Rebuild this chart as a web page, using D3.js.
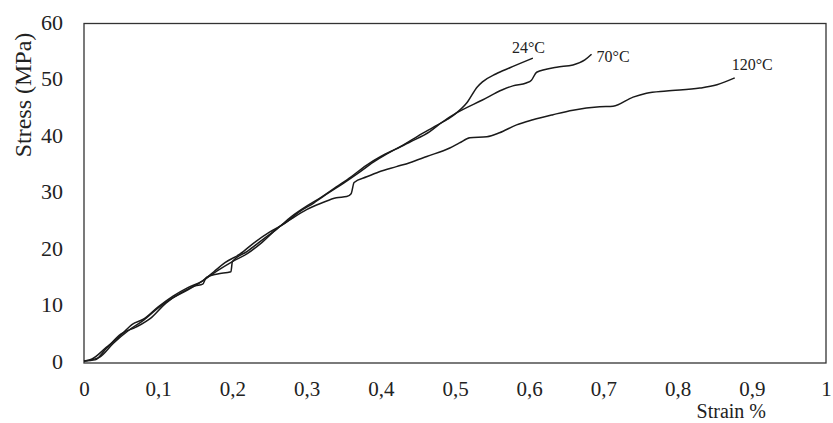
<!DOCTYPE html>
<html>
<head>
<meta charset="utf-8">
<script src="https://cdn.jsdelivr.net/npm/d3@7/dist/d3.min.js"></script>
<style>
  html, body { margin: 0; padding: 0; background: #fff; }
  svg { display: block; }
  text { font-family: "Liberation Serif", "Times New Roman", serif; fill: #222; }
</style>
</head>
<body>
<svg id="chart" width="833" height="423"></svg>
<script>
// ---- data ----
const xTickValues = [0, 0.1, 0.2, 0.3, 0.4, 0.5, 0.6, 0.7, 0.8, 0.9, 1];
const xTickLabels = ["0", "0,1", "0,2", "0,3", "0,4", "0,5", "0,6", "0,7", "0,8", "0,9", "1"];
const yTickValues = [0, 10, 20, 30, 40, 50, 60];
const yTickLabels = ["0", "10", "20", "30", "40", "50", "60"];
const seriesNames = ["24°C", "70°C", "120°C"];

const strain24 = [0, 0.01, 0.03, 0.05, 0.065, 0.08, 0.1, 0.12, 0.14, 0.16, 0.175, 0.19, 0.21, 0.23, 0.25, 0.27, 0.29, 0.31, 0.33, 0.35, 0.37, 0.39, 0.41, 0.43, 0.45, 0.47, 0.49, 0.5, 0.516, 0.53, 0.537, 0.555, 0.574, 0.605];
const stress24 = [0, 0.3, 2.4, 4.6, 6.5, 7.4, 9.6, 11.5, 13.0, 14.2, 15.8, 17.4, 18.9, 21.0, 22.8, 24.3, 26.4, 28.0, 29.8, 31.5, 33.3, 35.2, 36.8, 38.2, 39.8, 41.3, 42.8, 43.7, 45.7, 48.5, 49.4, 50.8, 51.9, 53.6];

const strain70 = [0, 0.015, 0.03, 0.05, 0.07, 0.09, 0.11, 0.13, 0.15, 0.16, 0.165, 0.18, 0.198, 0.2, 0.22, 0.24, 0.26, 0.28, 0.3, 0.32, 0.34, 0.36, 0.38, 0.4, 0.42, 0.44, 0.466, 0.483, 0.502, 0.537, 0.564, 0.578, 0.596, 0.603, 0.61, 0.637, 0.659, 0.675, 0.684];
const stress70 = [0, 0.2, 2.2, 4.8, 6.0, 7.6, 10.2, 12.0, 13.3, 13.6, 14.8, 15.4, 15.8, 17.6, 19.4, 21.4, 23.4, 25.6, 27.4, 29.0, 30.8, 32.6, 34.6, 36.2, 37.5, 38.8, 40.6, 42.3, 43.9, 46.2, 48.0, 48.7, 49.2, 49.7, 51.1, 52.0, 52.4, 53.3, 54.3];

const strain120 = [0, 0.02, 0.04, 0.06, 0.08, 0.1, 0.12, 0.14, 0.16, 0.18, 0.2, 0.22, 0.24, 0.26, 0.28, 0.3, 0.321, 0.34, 0.354, 0.36, 0.364, 0.381, 0.398, 0.421, 0.439, 0.462, 0.493, 0.506, 0.52, 0.543, 0.56, 0.583, 0.605, 0.632, 0.659, 0.695, 0.713, 0.74, 0.758, 0.785, 0.83, 0.853, 0.877];
const stress120 = [0, 0.6, 3.2, 5.4, 7.2, 9.4, 11.2, 12.6, 14.2, 16.0, 17.6, 19.0, 21.0, 23.4, 25.2, 26.8, 28.0, 28.9, 29.1, 29.6, 31.6, 32.6, 33.5, 34.4, 35.1, 36.2, 37.7, 38.6, 39.5, 39.7, 40.4, 41.8, 42.7, 43.6, 44.4, 45.0, 45.1, 46.7, 47.4, 47.8, 48.3, 48.9, 50.1];

// ---- build series ----
const series = [
  { name: seriesNames[0], pts: strain24.map((s, i) => [s, stress24[i]]), dx: -21, dy: -5, anchor: "start" },
  { name: seriesNames[1], pts: strain70.map((s, i) => [s, stress70[i]]), dx: 5, dy: 8, anchor: "start" },
  { name: seriesNames[2], pts: strain120.map((s, i) => [s, stress120[i]]), dx: -3, dy: -8, anchor: "start" }
];

const svg = d3.select("#chart");
const x = d3.scaleLinear().domain([0, 1]).range([84, 826]);
const y = d3.scaleLinear().domain([0, 60]).range([361, 22]);

// frame
svg.append("rect")
  .attr("x", x(0)).attr("y", y(60) + 1.5)
  .attr("width", x(1) - x(0)).attr("height", y(0) - y(60) + 0.5)
  .attr("fill", "none").attr("stroke", "#333").attr("stroke-width", 1.3);

// axes (labels only)
const xAxis = d3.axisBottom(x).tickValues(xTickValues)
  .tickFormat((d, i) => xTickLabels[i]).tickSize(0).tickPadding(20);
const gx = svg.append("g").attr("transform", `translate(0,${y(0)})`).call(xAxis);
gx.select(".domain").remove();
gx.selectAll("text").style("font-size", "21px").attr("fill", "#222")
  .style("font-family", "'Liberation Serif', serif");

const yAxis = d3.axisLeft(y).tickValues(yTickValues)
  .tickFormat((d, i) => yTickLabels[i]).tickSize(0).tickPadding(21);
const gy = svg.append("g").attr("transform", `translate(${x(0)},0)`).call(yAxis);
gy.select(".domain").remove();
gy.selectAll("text").style("font-size", "22px").attr("fill", "#222")
  .style("font-family", "'Liberation Serif', serif");

// axis titles
svg.append("text")
  .attr("x", 766).attr("y", 418)
  .attr("text-anchor", "end")
  .style("font-size", "20px")
  .text("Strain %");

svg.append("text")
  .attr("transform", "translate(31,95) rotate(-90)")
  .attr("text-anchor", "middle")
  .style("font-size", "24px")
  .text("Stress (MPa)");

// curves
const line = d3.line().x(d => x(d[0])).y(d => y(d[1])).curve(d3.curveMonotoneX);
svg.append("g").selectAll("path").data(series).join("path")
  .attr("d", d => line(d.pts))
  .attr("fill", "none")
  .attr("stroke", "#1a1a1a")
  .attr("stroke-width", 1.5)
  .attr("stroke-linejoin", "round");

// curve labels
svg.append("g").selectAll("text").data(series).join("text")
  .attr("x", d => x(d.pts[d.pts.length - 1][0]) + d.dx)
  .attr("y", d => y(d.pts[d.pts.length - 1][1]) + d.dy)
  .attr("text-anchor", d => d.anchor)
  .style("font-size", "16px")
  .text(d => d.name);
</script>
</body>
</html>
